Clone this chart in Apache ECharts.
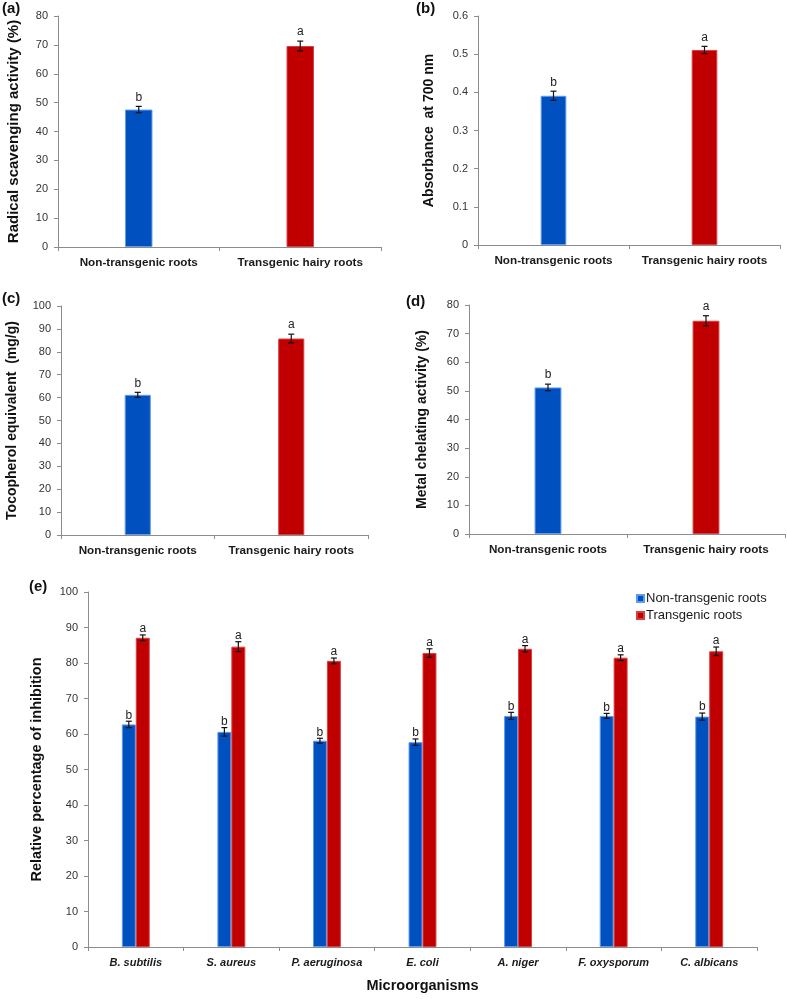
<!DOCTYPE html>
<html>
<head>
<meta charset="utf-8">
<script src="https://cdn.jsdelivr.net/npm/echarts@6/dist/echarts.min.js"></script>
<style>
html,body{margin:0;padding:0;background:#fff;}
#chart{width:787px;height:999px;}
</style>
</head>
<body>
<div id="chart"></div>
<script>
// ---------- DATA ----------
const rootCats = ['Non-transgenic roots', 'Transgenic hairy roots'];
const sigTop = ['b', 'a'];

const radicalVals = [47.6, 69.6];
const radicalErr = [1.1, 1.7];

const absorbVals = [0.391, 0.511];
const absorbErr = [0.012, 0.0095];

const tocoVals = [61.2, 85.8];
const tocoErr = [1.1, 1.9];

const chelVals = [51.2, 74.5];
const chelErr = [1.15, 1.75];

const microbes = ['B. subtilis', 'S. aureus', 'P. aeruginosa', 'E. coli', 'A. niger', 'F. oxysporum', 'C. albicans'];
const nonTransVals = [62.7, 60.6, 58.1, 57.7, 65.1, 65.1, 64.9];
const nonTransErr = [0.9, 1.2, 0.7, 0.9, 1.0, 0.7, 1.0];
const nonTransSig = ['b', 'b', 'b', 'b', 'b', 'b', 'b'];
const transVals = [87.1, 84.6, 80.6, 82.8, 84.0, 81.5, 83.3];
const transErr = [0.8, 1.4, 0.8, 1.2, 0.9, 0.8, 1.2];
const transSig = ['a', 'a', 'a', 'a', 'a', 'a', 'a'];

const yTitles = ['Radical scavenging activity (%)', 'Absorbance  at 700 nm', 'Tocopherol equivalent  (mg/g)', 'Metal chelating activity (%)', 'Relative percentage of inhibition'];
const panelLetters = ['(a)', '(b)', '(c)', '(d)', '(e)'];
const xTitleE = 'Microorganisms';
const legendNames = ['Non-transgenic roots', 'Transgenic roots'];

// ---------- STYLE ----------
const FONT = 'Liberation Sans, Arial, Helvetica, sans-serif';
const BLUE = '#0050C0';
const RED = '#C00000';
const BLUE_EDGE = '#5e9cf0';
const RED_EDGE = '#d84040';
const AXIS = '#8c8c8c';

const chart = echarts.init(document.getElementById('chart'));

function errRender(offsetFrac, sigArr, fontSize, gapPx) {
  return function (params, api) {
    const x = api.value(0), y = api.value(1), e = api.value(2);
    const band = api.size([1, 0])[0];
    const hi = api.coord([x, y + e]);
    const lo = api.coord([x, y - e]);
    const cx = hi[0] + offsetFrac * band;
    const cap = 3;
    const st = { stroke: '#111', lineWidth: 1.2 };
    return {
      type: 'group',
      children: [
        { type: 'line', shape: { x1: cx, y1: hi[1], x2: cx, y2: lo[1] }, style: st },
        { type: 'line', shape: { x1: cx - cap, y1: hi[1], x2: cx + cap, y2: hi[1] }, style: st },
        { type: 'line', shape: { x1: cx - cap, y1: lo[1], x2: cx + cap, y2: lo[1] }, style: st },
        {
          type: 'text',
          style: {
            x: cx, y: hi[1] - gapPx, text: sigArr[params.dataIndex],
            align: 'center', verticalAlign: 'bottom',
            font: 'normal ' + fontSize + 'px ' + FONT, fill: '#222'
          }
        }
      ]
    };
  };
}

const grids = [
  { left: 58, top: 16, width: 323, height: 231 },
  { left: 478, top: 16, width: 302, height: 229 },
  { left: 61, top: 306, width: 307, height: 229 },
  { left: 469, top: 305, width: 316, height: 229 },
  { left: 88, top: 592, width: 669, height: 355 }
].map(g => Object.assign({ outerBoundsMode: 'none', containLabel: false }, g));

function xAx(gi, cats, italic, size) {
  return {
    type: 'category', gridIndex: gi, data: cats,
    axisLine: { show: true, lineStyle: { color: AXIS, width: 1 } },
    axisTick: { show: true, inside: false, length: 4, alignWithLabel: false, lineStyle: { color: AXIS } },
    axisLabel: {
      color: '#1a1a1a', fontFamily: FONT, fontSize: size, fontWeight: 'bold',
      fontStyle: italic ? 'italic' : 'normal', margin: 10, interval: 0
    },
    splitLine: { show: false }
  };
}
function yAx(gi, max, interval, name, gap, nameSize) {
  return {
    type: 'value', gridIndex: gi, min: 0, max: max, interval: interval,
    name: name, nameLocation: 'middle', nameGap: gap, nameRotate: 90,
    nameTextStyle: { color: '#111', fontFamily: FONT, fontSize: nameSize, fontWeight: 'bold' },
    axisLine: { show: true, lineStyle: { color: AXIS, width: 1 } },
    axisTick: { show: true, inside: false, length: 4, lineStyle: { color: AXIS } },
    axisLabel: { color: '#333', fontFamily: FONT, fontSize: 11, margin: 10 },
    splitLine: { show: false }
  };
}

function topPanelSeries(gi, vals, errs) {
  return [
    {
      type: 'bar', xAxisIndex: gi, yAxisIndex: gi, barWidth: '17%',
      data: vals.map((v, i) => ({
        value: v,
        itemStyle: { color: i === 0 ? BLUE : RED, borderColor: i === 0 ? BLUE_EDGE : RED_EDGE, borderWidth: 1 }
      })),
      silent: true
    },
    {
      type: 'custom', xAxisIndex: gi, yAxisIndex: gi, z: 5,
      renderItem: errRender(0, sigTop, 12, 3),
      data: vals.map((v, i) => [i, v, errs[i]]),
      silent: true
    }
  ];
}

const option = {
  backgroundColor: '#fff',
  animation: false,
  grid: grids,
  xAxis: [
    xAx(0, rootCats, false, 11.7), xAx(1, rootCats, false, 11.7), xAx(2, rootCats, false, 11.7), xAx(3, rootCats, false, 11.7),
    Object.assign(xAx(4, microbes, true, 11), {
      name: xTitleE, nameLocation: 'middle', nameGap: 31,
      nameTextStyle: { color: '#111', fontFamily: FONT, fontSize: 14.5, fontWeight: 'bold' }
    })
  ],
  yAxis: [
    yAx(0, 80, 10, yTitles[0], 37, 15),
    yAx(1, 0.6, 0.1, yTitles[1], 42, 14),
    yAx(2, 100, 10, yTitles[2], 42, 14),
    yAx(3, 80, 10, yTitles[3], 40, 14),
    yAx(4, 100, 10, yTitles[4], 44, 14.5)
  ],
  legend: {
    orient: 'vertical', left: 631, top: 587, itemWidth: 7, itemHeight: 7, itemGap: 4,
    icon: 'rect', data: legendNames,
    textStyle: { color: '#1a1a1a', fontFamily: FONT, fontSize: 13, padding: [0, 0, 0, -3] }
  },
  graphic: [
    { type: 'text', left: 2, top: 1, style: { text: panelLetters[0], font: 'bold 15px ' + FONT, fill: '#111' } },
    { type: 'text', left: 416, top: 1, style: { text: panelLetters[1], font: 'bold 15px ' + FONT, fill: '#111' } },
    { type: 'text', left: 2, top: 291, style: { text: panelLetters[2], font: 'bold 15px ' + FONT, fill: '#111' } },
    { type: 'text', left: 406, top: 294, style: { text: panelLetters[3], font: 'bold 15px ' + FONT, fill: '#111' } },
    { type: 'text', left: 29, top: 579, style: { text: panelLetters[4], font: 'bold 15px ' + FONT, fill: '#111' } }
  ],
  series: [].concat(
    topPanelSeries(0, radicalVals, radicalErr),
    topPanelSeries(1, absorbVals, absorbErr),
    topPanelSeries(2, tocoVals, tocoErr),
    topPanelSeries(3, chelVals, chelErr),
    [
      {
        name: legendNames[0], type: 'bar', xAxisIndex: 4, yAxisIndex: 4, barWidth: '14.6%', barGap: '0%',
        itemStyle: { color: BLUE, borderColor: BLUE_EDGE, borderWidth: 1 },
        data: nonTransVals, silent: true
      },
      {
        name: legendNames[1], type: 'bar', xAxisIndex: 4, yAxisIndex: 4, barWidth: '14.6%', barGap: '0%',
        itemStyle: { color: RED, borderColor: RED_EDGE, borderWidth: 1 },
        data: transVals, silent: true
      },
      {
        type: 'custom', xAxisIndex: 4, yAxisIndex: 4, z: 5,
        renderItem: errRender(-0.073, nonTransSig, 12, 0),
        data: nonTransVals.map((v, i) => [i, v, nonTransErr[i]]), silent: true
      },
      {
        type: 'custom', xAxisIndex: 4, yAxisIndex: 4, z: 5,
        renderItem: errRender(0.073, transSig, 12, 0),
        data: transVals.map((v, i) => [i, v, transErr[i]]), silent: true
      }
    ]
  )
};
chart.setOption(option);
</script>
</body>
</html>
